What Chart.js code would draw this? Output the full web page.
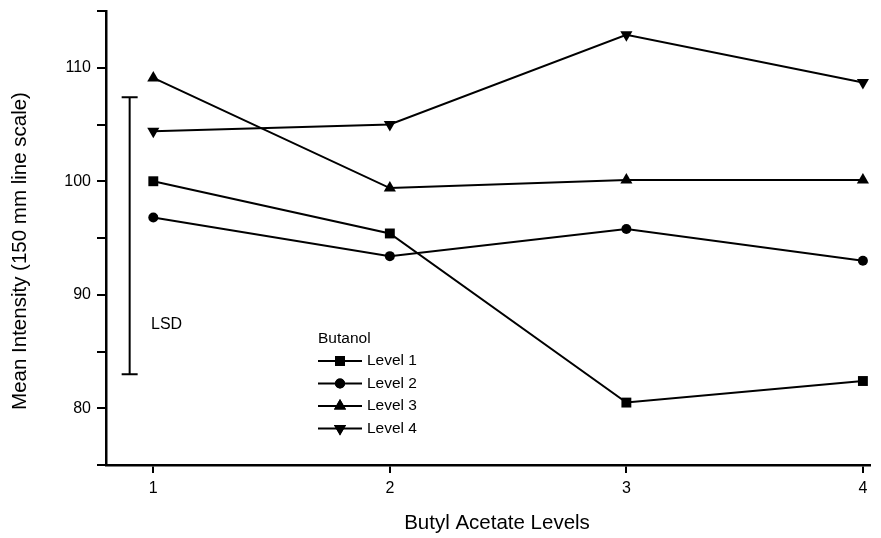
<!DOCTYPE html>
<html lang="en">
<head>
    <meta charset="UTF-8">
    <title>Butanol x Butyl Acetate</title>
    <script src="https://cdn.jsdelivr.net/npm/chart.js"></script>
    <style>
        html, body { margin: 0; padding: 0; background: #fff; }
        .chart-container { width: 881px; height: 538px; }
    </style>
</head>
<body>
    <div class="chart-container">
        <canvas id="intensityChart"></canvas>
    </div>

    <script>
        // butyl acetate levels (x) and mean intensity per butanol level
        const acetateLevels = [1, 2, 3, 4];
        const level1 = [100.0, 95.4, 80.5, 82.4];
        const level2 = [96.8, 93.4, 95.8, 93.0];
        const level3 = [109.1, 99.4, 100.1, 100.1];
        const level4 = [104.4, 105.0, 112.9, 108.7];

        const seriesNames = ['Level 1', 'Level 2', 'Level 3', 'Level 4'];
        const yTickLabels = [80, 90, 100, 110];

        // LSD bar (value range drawn at the left of level 1)
        const lsdX = 0.9;
        const lsdTop = 107.4;
        const lsdBottom = 83.0;

        const font = '"Liberation Sans", Arial, sans-serif';

        function toPoints(values) {
            return acetateLevels.map((x, i) => ({ x: x, y: values[i] }));
        }

        function makeDataset(label, values, style, rotation, radius) {
            return {
                label: label,
                data: toPoints(values),
                borderColor: '#000',
                backgroundColor: '#000',
                borderWidth: 2,
                pointStyle: style,
                rotation: rotation,
                pointRadius: radius,
                pointHoverRadius: radius,
                pointBorderWidth: 0,
                fill: false,
                tension: 0
            };
        }

        const datasets = [
            makeDataset(seriesNames[0], level1, 'rect', 0, 7),
            makeDataset(seriesNames[1], level2, 'circle', 0, 5),
            makeDataset(seriesNames[2], level3, 'triangle', 0, 7),
            makeDataset(seriesNames[3], level4, 'triangle', 180, 7)
        ];

        // LSD bar, axis titles and the "Butanol" legend drawn by hand
        const extrasPlugin = {
            id: 'extras',
            afterDatasetsDraw(chart) {
                const ctx = chart.ctx;
                const xs = chart.scales.x, ys = chart.scales.y;
                ctx.save();
                ctx.strokeStyle = '#000';
                ctx.fillStyle = '#000';
                ctx.lineWidth = 2;

                const bx = xs.getPixelForValue(lsdX);
                const top = ys.getPixelForValue(lsdTop);
                const bottom = ys.getPixelForValue(lsdBottom);
                ctx.beginPath();
                ctx.moveTo(bx, top); ctx.lineTo(bx, bottom);
                ctx.moveTo(bx - 8, top); ctx.lineTo(bx + 8, top);
                ctx.moveTo(bx - 8, bottom); ctx.lineTo(bx + 8, bottom);
                ctx.stroke();

                ctx.textBaseline = 'middle';
                ctx.textAlign = 'left';
                ctx.font = '16px ' + font;
                ctx.fillText('LSD', 151, 325);

                // axis titles
                ctx.font = '20.5px ' + font;
                ctx.textAlign = 'center';
                ctx.fillText('Butyl Acetate Levels', 497, 523);
                ctx.save();
                ctx.translate(20, 251);
                ctx.rotate(-Math.PI / 2);
                ctx.fillText('Mean Intensity (150 mm line scale)', 0, 0);
                ctx.restore();

                // legend
                ctx.textAlign = 'left';
                ctx.font = '15.5px ' + font;
                ctx.fillText('Butanol', 318, 339);
                chart.data.datasets.forEach((ds, i) => {
                    const y = 361 + i * 22.5;
                    ctx.lineWidth = 2;
                    ctx.beginPath();
                    ctx.moveTo(318, y); ctx.lineTo(362, y);
                    ctx.stroke();
                    Chart.helpers.drawPoint(ctx, {
                        pointStyle: ds.pointStyle,
                        rotation: ds.rotation,
                        radius: ds.pointRadius,
                        borderWidth: 0
                    }, 340, y);
                    ctx.fill();
                    ctx.fillText(ds.label, 367, y);
                });
                ctx.restore();
            }
        };

        window.onload = function() {
            const ctx = document.getElementById('intensityChart').getContext('2d');
            new Chart(ctx, {
                type: 'line',
                data: { datasets: datasets },
                plugins: [extrasPlugin],
                options: {
                    responsive: true,
                    maintainAspectRatio: false,
                    animation: false,
                    events: [],
                    layout: { padding: { top: 11, right: 11, left: 0, bottom: 0 } },
                    plugins: {
                        legend: { display: false },
                        tooltip: { enabled: false }
                    },
                    scales: {
                        x: {
                            type: 'linear',
                            min: 0.8,
                            max: 4.03,
                            afterBuildTicks(scale) {
                                scale.ticks = acetateLevels.map(v => ({ value: v }));
                            },
                            afterFit(scale) {
                                scale.height = 73;
                                scale.paddingLeft = 0;
                                scale.paddingRight = 0;
                            },
                            border: { color: '#000', width: 2.5 },
                            grid: { drawOnChartArea: false, drawTicks: true, tickLength: 8, tickColor: '#000', lineWidth: 2 },
                            ticks: { color: '#000', font: { family: font, size: 16 }, padding: 6 }
                        },
                        y: {
                            min: 75,
                            max: 115,
                            ticks: {
                                stepSize: 5,
                                color: '#000',
                                font: { family: font, size: 16 },
                                padding: 6,
                                callback: v => yTickLabels.includes(v) ? String(v) : ''
                            },
                            afterFit(scale) {
                                scale.width = 106;
                                scale.paddingTop = 0;
                                scale.paddingBottom = 0;
                            },
                            border: { color: '#000', width: 2.5 },
                            grid: { drawOnChartArea: false, drawTicks: true, tickLength: 9, tickColor: '#000', lineWidth: 2 }
                        }
                    }
                }
            });
        };
    </script>
</body>
</html>
